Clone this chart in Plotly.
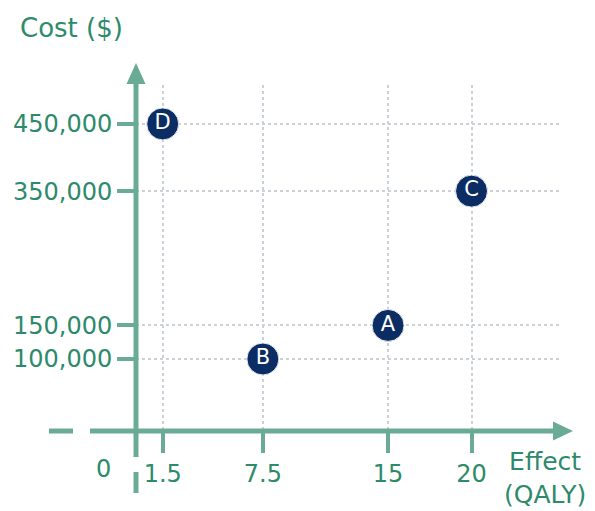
import plotly.graph_objects as go

# ---- data ----
labels = ["A", "B", "C", "D"]
effect = [15, 7.5, 20, 1.5]           # QALY
cost = [150000, 100000, 350000, 450000]  # $
x_ticks = [1.5, 7.5, 15, 20]
x_tick_text = ["1.5", "7.5", "15", "20"]
y_ticks = [100000, 150000, 350000, 450000]
y_tick_text = ["100,000", "150,000", "350,000", "450,000"]

W, H = 595, 511
ML, MR, MT, MB = 136, 35, 85, 79
AX = "#6aab95"
TXT = "#2d8a6b"
NAVY = "#0b2d63"
FONT = "DejaVu Sans"

def px(x):
    return (x - ML) / (W - ML - MR)

def py(y):
    return (H - MB - y) / (H - MT - MB)

fig = go.Figure()
fig.add_trace(go.Scatter(
    x=effect, y=cost, mode="markers+text", text=labels,
    textposition="middle center",
    textfont=dict(family=FONT, size=21, color="white"),
    marker=dict(size=32, color=NAVY, line=dict(width=1, color="#e8ecf2")),
    cliponaxis=False, hoverinfo="skip", showlegend=False,
))

shapes = []
line = dict(color=AX, width=5)
# y axis (with break)
shapes.append(dict(type="line", xref="paper", yref="paper", x0=px(136), x1=px(136), y0=py(457), y1=py(80), line=line))
shapes.append(dict(type="line", xref="paper", yref="paper", x0=px(136), x1=px(136), y0=py(472), y1=py(493), line=line))
# x axis (with break)
shapes.append(dict(type="line", xref="paper", yref="paper", x0=px(90), x1=px(556), y0=py(431), y1=py(431), line=line))
shapes.append(dict(type="line", xref="paper", yref="paper", x0=px(49), x1=px(73), y0=py(431), y1=py(431), line=line))
# arrow heads
def tri(pts):
    return "M " + " L ".join(f"{px(a)},{py(b)}" for a, b in pts) + " Z"
shapes.append(dict(type="path", xref="paper", yref="paper", path=tri([(136, 63), (126.5, 84), (145.5, 84)]),
                   fillcolor=AX, line=dict(width=0)))
shapes.append(dict(type="path", xref="paper", yref="paper", path=tri([(573, 431), (553, 421.5), (553, 440.5)]),
                   fillcolor=AX, line=dict(width=0)))

annotations = [
    dict(text="Cost ($)", xref="paper", yref="paper", x=px(71), y=py(28), showarrow=False,
         font=dict(family=FONT, size=26, color=TXT), xanchor="center", yanchor="middle"),
    dict(text="Effect<br>(QALY)", xref="paper", yref="paper", x=px(545), y=py(478), showarrow=False,
         font=dict(family=FONT, size=25, color=TXT), xanchor="center", yanchor="middle", align="center"),
    dict(text="0", xref="paper", yref="paper", x=px(103), y=py(469), showarrow=False,
         font=dict(family=FONT, size=24, color=TXT), xanchor="center", yanchor="middle"),
]

grid = dict(showgrid=True, gridcolor="#ccd0d9", gridwidth=1.5, griddash="dot")
fig.update_layout(
    width=W, height=H, margin=dict(l=ML, r=MR, t=MT, b=MB),
    paper_bgcolor="white", plot_bgcolor="white",
    shapes=shapes, annotations=annotations,
    xaxis=dict(range=[-0.1, 25.3], tickvals=x_ticks, ticktext=x_tick_text,
               ticks="outside", ticklen=20, tickwidth=4, tickcolor=AX,
               tickfont=dict(family=FONT, size=24, color=TXT),
               showline=False, zeroline=False, fixedrange=True, **grid),
    yaxis=dict(range=[-8700, 508000], tickvals=y_ticks, ticktext=y_tick_text,
               ticks="outside", ticklen=18, tickwidth=4, tickcolor=AX,
               tickfont=dict(family=FONT, size=24, color=TXT),
               showline=False, zeroline=False, fixedrange=True, **grid),
)
fig.write_html("out.html")
